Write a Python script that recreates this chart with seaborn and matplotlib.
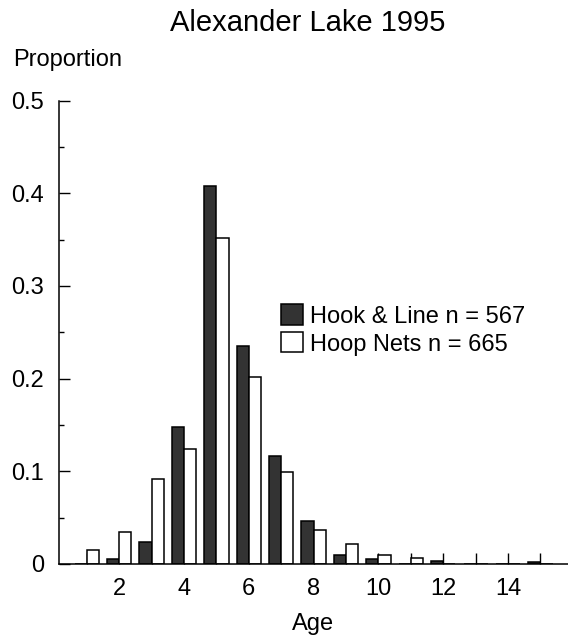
import matplotlib
matplotlib.use("Agg")
import matplotlib.pyplot as plt
import seaborn as sns
import pandas as pd
from matplotlib.patches import Patch
from matplotlib.ticker import MultipleLocator

ages = list(range(1, 16))
hook_line = [0.0, 0.005, 0.024, 0.148, 0.408, 0.235, 0.116, 0.046, 0.010, 0.005, 0.0, 0.003, 0.0, 0.0, 0.002]
hoop_nets = [0.015, 0.035, 0.092, 0.124, 0.352, 0.202, 0.099, 0.037, 0.022, 0.010, 0.006, 0.0, 0.0, 0.0, 0.0]
series_names = ["Hook & Line n = 567", "Hoop Nets n = 665"]
series_colors = ["#333333", "#ffffff"]
x_ticklabels = [2, 4, 6, 8, 10, 12, 14]
y_ticks = [0, 0.1, 0.2, 0.3, 0.4, 0.5]

df = pd.DataFrame({
    "Age": ages * 2,
    "Proportion": hook_line + hoop_nets,
    "Gear": [series_names[0]] * len(ages) + [series_names[1]] * len(ages),
})

sns.set_theme(style="ticks")
plt.rcParams["font.family"] = ["Liberation Sans", "DejaVu Sans"]
plt.rcParams["text.color"] = "black"

fig = plt.figure(figsize=(5.68, 6.4), dpi=100)
ax = fig.add_axes([0.1044, 0.1188, 0.8956, 0.724])

sns.barplot(data=df, x="Age", y="Proportion", hue="Gear", hue_order=series_names,
            palette=dict(zip(series_names, series_colors)), native_scale=True,
            width=0.75, edgecolor="black", linewidth=1.1, saturation=1,
            legend=False, ax=ax, errorbar=None)

ax.set_xlim(0.15, 15.85)
ax.set_ylim(0, 0.5)
ax.set_yticks(y_ticks)
ax.set_yticklabels(["0", "0.1", "0.2", "0.3", "0.4", "0.5"])
ax.yaxis.set_minor_locator(MultipleLocator(0.05))
ax.set_xticks(ages)
ax.set_xticklabels([str(a) if a in x_ticklabels else "" for a in ages])

for s in ["top", "right"]:
    ax.spines[s].set_visible(False)
for s in ["left", "bottom"]:
    ax.spines[s].set_linewidth(1.1)
    ax.spines[s].set_color("black")

ax.tick_params(axis="both", which="major", direction="in", length=8, width=1.0,
               labelsize=17, colors="black", labelcolor="black")
ax.tick_params(axis="x", which="major", pad=10)
ax.tick_params(axis="y", which="major", pad=11)
ax.tick_params(axis="y", which="minor", direction="in", length=3.8, width=1.0, colors="black")
ax.tick_params(axis="x", which="minor", length=0)

ax.set_xlabel("")
ax.set_ylabel("")
fig.text(313 / 568, 1 - 624 / 640, "Age", ha="center", va="center", fontsize=17, color="black")
fig.text(13 / 568, 1 - 60 / 640, "Proportion", ha="left", va="center", fontsize=17, color="black")
fig.text(308 / 568, 1 - 23 / 640, "Alexander Lake 1995", ha="center", va="center", fontsize=21, color="black")

handles = [Patch(facecolor=c, edgecolor="black", linewidth=1.1) for c in series_colors]
ax.legend(handles, series_names, loc="upper left", bbox_to_anchor=(0.436, 0.56),
          frameon=False, fontsize=17, handlelength=0.93, handleheight=0.93,
          handletextpad=0.3, labelspacing=0.2, borderaxespad=0, borderpad=0,
          labelcolor="black")

fig.savefig("out.png", dpi=100)
